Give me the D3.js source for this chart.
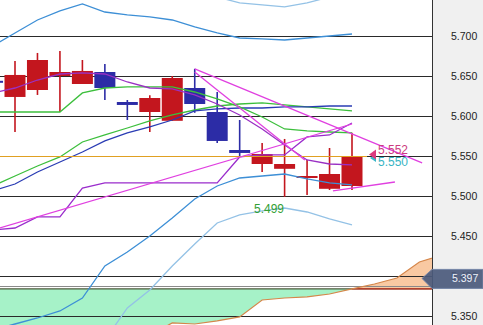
<!DOCTYPE html>
<html lang="en">
<head>
  <meta charset="UTF-8">
  <title>Candle chart</title>
  <script src="https://d3js.org/d3.v7.min.js"></script>
  <style>
    body { margin: 0; background: #fff; font-family: "Liberation Sans", Arial, sans-serif; }
    svg text { font-family: "Liberation Sans", Arial, sans-serif; }
  </style>
</head>
<body>
  <svg id="chart" width="483" height="325"></svg>

  <script>
    // candles, index -1 is the half-hidden one at the left edge
    const candleIdx = d3.range(-1, 16);
    const opens  = [5.6440, 5.6238, 5.6325, 5.6500, 5.6400, 5.6550, 5.6175, 5.6050, 5.5940, 5.6350, 5.6050, 5.5575, 5.5400, 5.5340, 5.5225, 5.5090, 5.5125];
    const highs  = [5.6470, 5.6688, 5.6788, 5.6813, 5.6700, 5.6650, 5.6200, 5.6260, 5.6500, 5.6590, 5.6300, 5.5950, 5.5663, 5.5713, 5.5450, 5.5600, 5.5790];
    const lows   = [5.6410, 5.5800, 5.6263, 5.6050, 5.6400, 5.6200, 5.5950, 5.5800, 5.5940, 5.6040, 5.5663, 5.5488, 5.5300, 5.4990, 5.5013, 5.5075, 5.5075];
    const closes = [5.6430, 5.6513, 5.6700, 5.6550, 5.6563, 5.6350, 5.6138, 5.6225, 5.6475, 5.6150, 5.5688, 5.5538, 5.5525, 5.5400, 5.5250, 5.5275, 5.5488];

    // indicator lines, same index as candles
    const bandUpper2 = [5.6875, 5.7038, 5.7200, 5.7313, 5.7400, 5.7300, 5.7263, 5.7238, 5.7200, 5.7113, 5.7038, 5.6975, 5.6963, 5.6950, 5.6975, 5.7000, 5.7025];
    const bandUpper3 = [null, null, null, null, null, null, null, 5.7900, 5.7750, 5.7600, 5.7488, 5.7413, 5.7388, 5.7363, 5.7413, 5.7488, 5.7550];
    const bandLower2 = [5.3325, 5.3400, 5.3475, 5.3563, 5.3725, 5.4125, 5.4300, 5.4500, 5.4725, 5.4963, 5.5125, 5.5225, 5.5250, 5.5275, 5.5213, 5.5163, 5.5138];
    const bandLower3 = [null, null, null, null, 5.2760, 5.3200, 5.3600, 5.3825, 5.4125, 5.4400, 5.4663, 5.4763, 5.4813, 5.4850, 5.4800, 5.4713, 5.4638];
    const maShort    = [5.5125, 5.5250, 5.5375, 5.5488, 5.5675, 5.5763, 5.5850, 5.5938, 5.6013, 5.6075, 5.6125, 5.6150, 5.6163, 5.6138, 5.6113, 5.6088, 5.6063];
    const maLong     = [5.5063, 5.5150, 5.5300, 5.5425, 5.5550, 5.5688, 5.5788, 5.5863, 5.5950, 5.6063, 5.6088, 5.6100, 5.6100, 5.6113, 5.6113, 5.6125, 5.6125];
    const tenkan     = [5.6288, 5.6350, 5.6450, 5.6525, 5.6538, 5.6525, 5.6425, 5.6350, 5.6338, 5.6263, 5.6150, 5.6013, 5.5838, 5.5638, 5.5450, 5.5400, 5.5388];
    const kijun      = [5.6050, 5.6050, 5.6050, 5.6050, 5.6288, 5.6350, 5.6363, 5.6363, 5.6363, 5.6300, 5.6213, 5.6113, 5.5988, 5.5838, 5.5813, 5.5800, 5.5788];
    const lagLine    = [5.4575, 5.4600, 5.4738, 5.4738, 5.5100, 5.5163, 5.5163, 5.5163, 5.5163, 5.5163, 5.5163, 5.5488, 5.5513, 5.5513, 5.5738, 5.5763, 5.5913];

    // cloud, shifted forward
    const cloudIdx = d3.range(-1, 20);
    const spanA = [5.3138, 5.3138, 5.3138, 5.3138, 5.3138, 5.3138, 5.3138, 5.3263, 5.3413, 5.3400, 5.3438, 5.3488, 5.3700, 5.3725, 5.3738, 5.3775, 5.3838, 5.3900, 5.3975, 5.4175, 5.4263];
    const spanB = [5.3838, 5.3838, 5.3838, 5.3838, 5.3838, 5.3838, 5.3838, 5.3838, 5.3838, 5.3838, 5.3838, 5.3838, 5.3838, 5.3838, 5.3838, 5.3838, 5.3838, 5.3838, 5.3838, 5.3838, 5.3838];

    // drawn trend lines: [index, price] end points
    const trendLines = [
      [[8, 5.6588], [18.12, 5.5413]],
      [[8, 5.6550], [12.9, 5.5450]],
      [[-0.67, 5.4600], [15, 5.5900]],
      [[14.15, 5.5063], [16.91, 5.5175]]
    ];

    const tickValues = [5.35, 5.40, 5.45, 5.50, 5.55, 5.60, 5.65, 5.70];
    const lastPrice = 5.550;
    const refLine = 5.3869;
    const markBid = 5.552, markAsk = 5.550, lowMark = 5.499, priceTag = 5.397;

    const svg = d3.select("#chart");
    const width = 483, height = 325, plotW = 432;

    const x = d3.scaleLinear().domain([0, 15]).range([15, 352]);
    const y = d3.scaleLinear().domain([5.70, 5.35]).range([36, 316]);

    svg.append("defs").append("clipPath").attr("id", "plot")
      .append("rect").attr("width", plotW).attr("height", height);

    svg.append("rect").attr("x", plotW).attr("width", width - plotW).attr("height", height).attr("fill", "#f0f0f0");

    const g = svg.append("g").attr("clip-path", "url(#plot)");

    // cloud fills
    const cloud = cloudIdx.map((d, i) => ({ i: d, a: spanA[i], b: spanB[i] }));
    g.append("path").datum(cloud)
      .attr("fill", "#a6f2c8")
      .attr("d", d3.area().x(d => x(d.i)).y0(d => y(d.b)).y1(d => y(Math.min(d.a, d.b))));
    g.append("path").datum(cloud)
      .attr("fill", "#f9c9a2")
      .attr("d", d3.area().x(d => x(d.i)).y0(d => y(d.b)).y1(d => y(Math.max(d.a, d.b))));

    // grid
    g.selectAll(".grid").data(tickValues).enter().append("line")
      .attr("x1", 0).attr("x2", plotW)
      .attr("y1", d => Math.round(y(d)) + 0.5).attr("y2", d => Math.round(y(d)) + 0.5)
      .attr("stroke", "#2a2a2a").attr("stroke-width", 1);

    g.append("line").attr("x1", 0).attr("x2", plotW)
      .attr("y1", Math.round(y(refLine)) + 0.5).attr("y2", Math.round(y(refLine)) + 0.5)
      .attr("stroke", "#8a8a8a");

    // cloud edges
    g.append("path").datum(cloud)
      .attr("fill", "none").attr("stroke", "#4a5a3a").attr("stroke-width", 1.2)
      .attr("d", d3.line().x(d => x(d.i)).y(d => y(d.b)));
    g.append("path").datum(cloud.filter(d => d.i >= 15))
      .attr("fill", "none").attr("stroke", "#c83020").attr("stroke-width", 1.2)
      .attr("d", d3.line().x(d => x(d.i)).y(d => y(d.b)));
    g.append("path").datum(cloud)
      .attr("fill", "none").attr("stroke", "#d5864a").attr("stroke-width", 1.2)
      .attr("d", d3.line().x(d => x(d.i)).y(d => y(d.a)));

    // candles
    const candles = candleIdx.map((d, i) => ({ i: d, o: opens[i], h: highs[i], l: lows[i], c: closes[i] }));
    const cg = g.selectAll(".candle").data(candles).enter().append("g");
    cg.append("line")
      .attr("x1", d => x(d.i)).attr("x2", d => x(d.i))
      .attr("y1", d => y(d.h)).attr("y2", d => y(d.l))
      .attr("stroke", d => d.c >= d.o ? "#c3161e" : "#2c2ca6").attr("stroke-width", 1.6);
    cg.append("rect")
      .attr("x", d => x(d.i) - 10.5).attr("width", 21)
      .attr("y", d => y(Math.max(d.o, d.c)))
      .attr("height", d => Math.max(2, Math.abs(y(d.o) - y(d.c))))
      .attr("fill", d => d.c >= d.o ? "#c3161e" : "#2c2ca6");

    function series(values, color, w) {
      const data = candleIdx.map((d, i) => ({ i: d, v: values[i] }));
      g.append("path").datum(data)
        .attr("fill", "none").attr("stroke", color).attr("stroke-width", w || 1.3)
        .attr("d", d3.line().defined(d => d.v !== null).x(d => x(d.i)).y(d => y(d.v)));
    }

    series(bandUpper3, "#94c2e6");
    series(bandLower3, "#94c2e6");
    series(bandUpper2, "#3d8fd6");
    series(bandLower2, "#3d8fd6");
    series(maShort, "#3cbf3c");
    series(maLong, "#2a3cb4");
    series(kijun, "#3cbf3c");
    series(lagLine, "#9a2ccc");
    series(tenkan, "#9a30c4");

    // last price line
    g.append("line").attr("x1", 0).attr("x2", 367)
      .attr("y1", Math.round(y(lastPrice)) + 0.5).attr("y2", Math.round(y(lastPrice)) + 0.5)
      .attr("stroke", "#e0a022").attr("stroke-width", 1);

    // trend lines
    g.selectAll(".trend").data(trendLines).enter().append("line")
      .attr("x1", d => x(d[0][0])).attr("y1", d => y(d[0][1]))
      .attr("x2", d => x(d[1][0])).attr("y2", d => y(d[1][1]))
      .attr("stroke", "#e040e0").attr("stroke-width", 1.3);

    // right axis
    svg.append("line").attr("x1", plotW + 0.5).attr("x2", plotW + 0.5).attr("y1", 0).attr("y2", height)
      .attr("stroke", "#333");

    const axis = svg.append("g").attr("transform", "translate(451,0)")
      .call(d3.axisRight(y).tickValues(tickValues).tickSize(0).tickPadding(0).tickFormat(d3.format(".3f")));
    axis.select(".domain").remove();
    axis.selectAll("text").attr("font-size", "10.5px").attr("fill", "#222");

    // price tag on the axis
    const ty = y(priceTag);
    svg.append("path")
      .attr("d", "M" + (plotW - 10) + "," + ty + "L" + plotW + "," + (ty - 9) + "L" + width + "," + (ty - 9) +
                 "L" + width + "," + (ty + 10) + "L" + plotW + "," + (ty + 10) + "Z")
      .attr("fill", "#4b5a7c").attr("fill-opacity", 0.92).attr("stroke", "#7484a6");
    svg.append("text").attr("x", 452).attr("y", ty + 4).attr("font-size", "10.5px")
      .attr("fill", "#eef2fa").text(d3.format(".3f")(priceTag));

    // markers on the last candle
    const by = y(markBid), ay = y(markAsk);
    svg.append("path").attr("d", "M370," + (ay + 2) + "L376," + (ay - 2) + "L376," + (ay + 6) + "Z").attr("fill", "#3ab6c8");
    svg.append("path").attr("d", "M369," + by + "L376," + (by - 5) + "L376," + (by + 5) + "Z").attr("fill", "#dc3a7e");
    svg.append("text").attr("x", 378).attr("y", by)
      .attr("font-size", "12px").attr("fill", "#cc3c80").text(d3.format(".3f")(markBid));
    svg.append("text").attr("x", 378).attr("y", ay + 10)
      .attr("font-size", "12px").attr("fill", "#38b4c4").text(d3.format(".3f")(markAsk));

    svg.append("text").attr("x", 254).attr("y", y(lowMark) + 16)
      .attr("font-size", "12px").attr("fill", "#34a034").text(d3.format(".3f")(lowMark));
  </script>
</body>
</html>
